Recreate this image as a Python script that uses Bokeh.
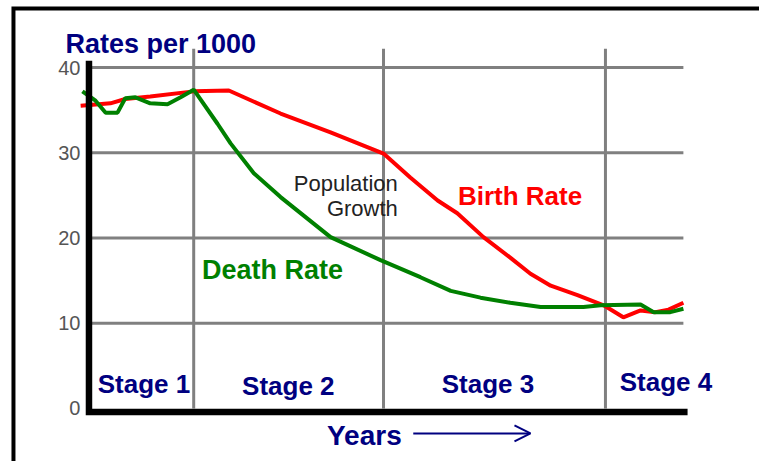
from bokeh.plotting import figure
from bokeh.models import LinearAxis, FixedTicker, Arrow, OpenHead
from bokeh.core.properties import value
from bokeh.embed import file_html
from bokeh.resources import INLINE

# ---- data (x: time index across the transition, y: rate per 1000) ----
birth_x = [-1.4, 3.6, 6.1, 10.3, 17.6, 23.5, 32.2, 40.6, 49.5, 54.0, 58.6, 61.9,
           66.3, 70.8, 74.2, 77.6, 82.1, 86.5, 89.8, 92.7, 95.2, 97.4, 99.9]
birth_y = [35.5, 35.8, 36.3, 36.6, 37.2, 37.3, 34.6, 32.4, 29.9, 27.1, 24.4, 22.9,
           20.1, 17.7, 15.8, 14.4, 13.3, 12.1, 10.7, 11.5, 11.3, 11.6, 12.4]
death_x = [-1.1, 1.1, 2.8, 4.8, 6.1, 7.8, 10.3, 13.2, 15.4, 17.6, 21.6, 23.8, 27.7,
           32.2, 40.6, 49.0, 55.7, 60.8, 65.8, 70.8, 75.9, 83.1, 86.0, 92.7, 94.9,
           97.7, 99.9]
death_y = [37.2, 36.1, 34.7, 34.7, 36.4, 36.5, 35.8, 35.7, 36.5, 37.4, 33.4, 31.1,
           27.6, 24.8, 20.1, 17.4, 15.4, 13.8, 13.0, 12.4, 11.9, 11.9, 12.1, 12.2,
           11.3, 11.3, 11.7]
y_ticks = [0, 10, 20, 30, 40]
stage_bounds = [17.6, 49.5, 86.8]
stage_names = ["Stage 1", "Stage 2", "Stage 3", "Stage 4"]

# ---- layout constants ----
X0, X1 = -14.87, 112.69
Y0, Y1 = -6.22, 47.86
GRID_END_X = 99.9
GRID_TOP_Y = 42.2
NAVY = "#000080"
FONT = value("Liberation Sans")

p = figure(width=759, height=461, x_range=(X0, X1), y_range=(Y0, Y1),
           x_axis_location=None, y_axis_location=None, toolbar_location=None,
           output_backend="svg", min_border=0)
p.outline_line_color = None
p.background_fill_color = "white"
p.border_fill_color = "white"
p.xgrid.visible = False
p.ygrid.visible = False

# y axis (labels only)
yax = LinearAxis(ticker=FixedTicker(ticks=y_ticks), fixed_location=-0.6)
yax.axis_line_color = None
yax.major_tick_line_color = None
yax.minor_tick_line_color = None
yax.major_tick_out = 0
yax.major_tick_in = 0
yax.major_label_standoff = 5
yax.major_label_text_font = "Liberation Sans"
yax.major_label_text_font_size = "20px"
yax.major_label_text_color = "#555555"
p.add_layout(yax, "left")

# grid lines
gy = [t for t in y_ticks if t > 0]
p.segment(x0=[0] * len(gy), y0=gy, x1=[GRID_END_X] * len(gy), y1=gy,
          line_color="#808080", line_width=3)
p.segment(x0=stage_bounds, y0=[0] * len(stage_bounds), x1=stage_bounds,
          y1=[GRID_TOP_Y] * len(stage_bounds), line_color="#808080", line_width=3)

# curves
p.line(birth_x, birth_y, line_color="#ff0000", line_width=4)
p.line(death_x, death_y, line_color="#008000", line_width=4)

# thick black axes
p.line([0, 0, 100.6], [40.8, -0.42, -0.42], line_color="black", line_width=6.5,
       line_join="miter")

# stage labels
stage_cx = [9.24, 33.5, 67.06, 96.97]
p.text(x=stage_cx, y=[2.82, 2.6, 2.82, 3.05], text=stage_names, text_font=FONT,
       text_font_style="bold", text_font_size=value("26px"), text_color=NAVY,
       text_align="center", text_baseline="alphabetic")

# titles / annotations
p.text(x=[-3.95], y=[42.7], text=["Rates per 1000"], text_font=FONT,
       text_font_style="bold", text_font_size=value("27px"), text_color=NAVY,
       text_align="left", text_baseline="alphabetic")
p.text(x=[40.0], y=[-3.17], text=["Years"], text_font=FONT,
       text_font_style="bold", text_font_size=value("28px"), text_color=NAVY,
       text_align="left", text_baseline="alphabetic")
p.add_layout(Arrow(end=OpenHead(size=16, line_color=NAVY, line_width=2),
                   x_start=54.5, y_start=-2.93, x_end=74.2, y_end=-2.93,
                   line_color=NAVY, line_width=2))
p.text(x=[62.0], y=[24.97], text=["Birth Rate"], text_font=FONT,
       text_font_style="bold", text_font_size=value("26px"), text_color="#ff0000",
       text_align="left", text_baseline="alphabetic")
p.text(x=[19.0], y=[16.19], text=["Death Rate"], text_font=FONT,
       text_font_style="bold", text_font_size=value("27px"), text_color="#008000",
       text_align="left", text_baseline="alphabetic")
p.text(x=[51.9, 51.9], y=[26.39, 23.46], text=["Population", "Growth"], text_font=FONT,
       text_font_size=value("22px"), text_color="#222222",
       text_align="right", text_baseline="alphabetic")

# outer frame (left and top edges fall inside the canvas)
p.line([130, -12.69, -12.69], [46.92, 46.92, -20], line_color="black",
       line_width=4, line_join="miter")

open("out.html", "w").write(file_html(p, INLINE))
